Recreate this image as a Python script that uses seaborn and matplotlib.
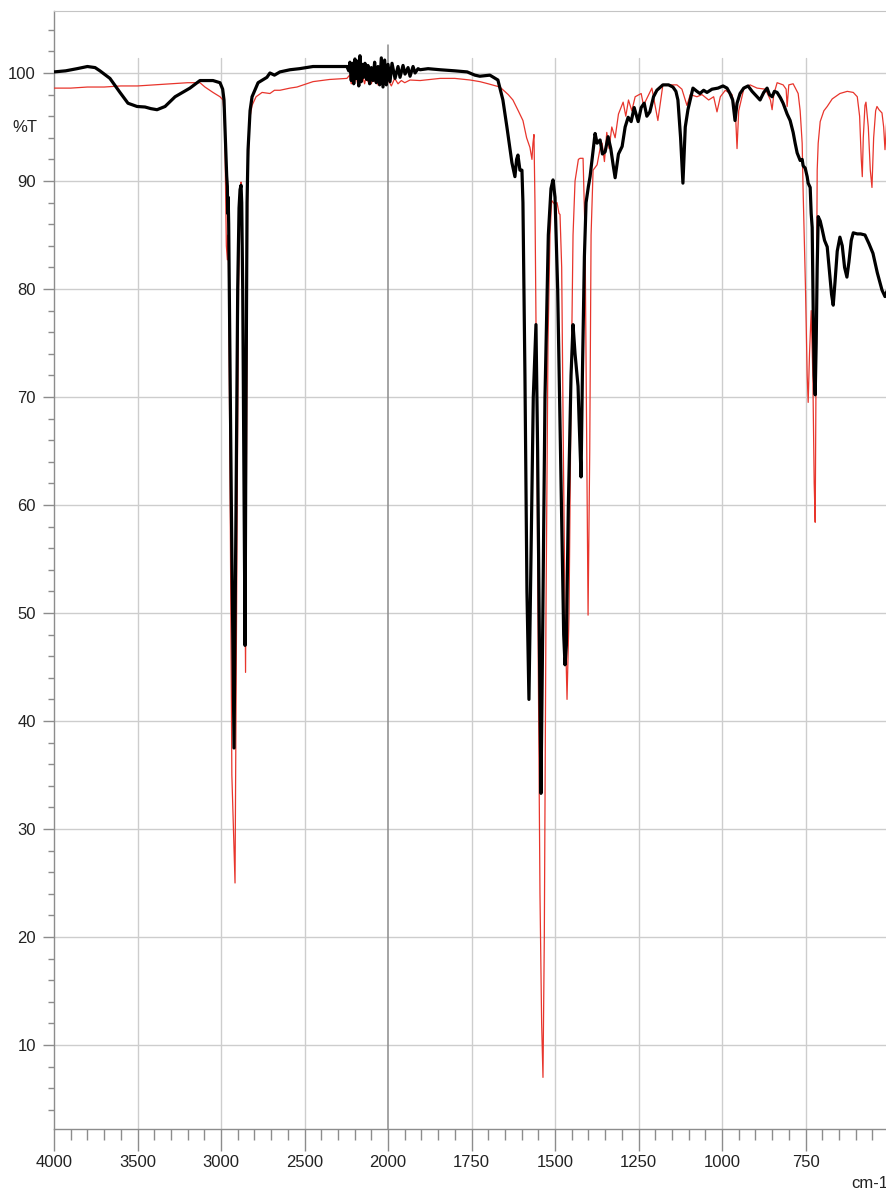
import numpy as np
import pandas as pd
import matplotlib
matplotlib.use("Agg")
import matplotlib.pyplot as plt
import seaborn as sns

# IR spectra, wavenumber (cm-1) and %T
black_wn = [4000, 3930, 3862, 3800, 3754, 3725, 3665, 3605, 3557, 3503, 3455, 3420, 3383, 3335, 3275,
            3186, 3126, 3048, 3006, 2990, 2982, 2972, 2966, 2962, 2960, 2957, 2954, 2938, 2922, 2910,
            2900, 2892, 2886, 2880, 2876, 2870, 2856, 2850, 2844, 2838, 2826, 2814, 2778, 2725, 2707,
            2680, 2647, 2587, 2530, 2449, 2350, 2246, 2235, 2228, 2220, 2212, 2205, 2198, 2190, 2182,
            2175, 2168, 2160, 2152, 2145, 2138, 2128, 2120, 2110, 2100, 2090, 2080, 2070, 2060, 2050,
            2040, 2030, 2020, 2010, 2000, 1994, 1988, 1979, 1970, 1964, 1955, 1949, 1940, 1934, 1925,
            1919, 1910, 1904, 1880, 1844, 1800, 1763, 1740, 1725, 1695, 1671, 1656, 1644, 1629, 1620,
            1615, 1611, 1605, 1599, 1596, 1590, 1584, 1578, 1572, 1565, 1557, 1552, 1546, 1542, 1538,
            1530, 1520, 1512, 1506, 1500, 1492, 1482, 1474, 1470, 1466, 1460, 1452, 1446, 1440, 1434,
            1431, 1428, 1422, 1418, 1412, 1407, 1400, 1395, 1389, 1380, 1374, 1365, 1358, 1350, 1341,
            1333, 1326, 1320, 1310, 1299, 1290, 1281, 1272, 1263, 1251, 1242, 1233, 1225, 1216, 1205,
            1195, 1177, 1160, 1147, 1138, 1132, 1124, 1117, 1110, 1102, 1087, 1075, 1066, 1055, 1045,
            1030, 1012, 997, 985, 976, 968, 961, 955, 946, 935, 922, 910, 895, 886, 875,
            865, 858, 850, 843, 835, 825, 817, 805, 796, 787, 781, 775, 770, 766, 760,
            757, 751, 745, 742, 736, 733, 730, 727, 724, 721, 718, 715, 712, 706, 700,
            693, 685, 678, 672, 667, 662, 655, 647, 640, 633, 626, 620, 613, 607, 595,
            585, 572, 560, 548, 535, 521, 512, 506]
black_t = [100.1, 100.2, 100.4, 100.6, 100.5, 100.2, 99.5, 98.2, 97.2, 96.9, 96.85, 96.7, 96.6, 96.9, 97.8,
           98.6, 99.3, 99.3, 99.1, 98.5, 97.5, 93.0, 90.5, 89.5, 87.0, 88.5, 86.0, 60.0, 37.5, 60.0,
           80.0, 87.5, 89.2, 89.6, 88.0, 80.0, 47.0, 70.0, 88.0, 92.9, 96.5, 97.8, 99.1, 99.6, 100.0,
           99.8, 100.1, 100.3, 100.4, 100.6, 100.6, 100.6, 100.2, 101.0, 99.3, 100.9, 99.0, 101.3, 99.5, 101.1,
           98.8, 101.6, 99.2, 100.8, 99.6, 100.9, 99.4, 100.7, 99.0, 100.5, 99.3, 101.0, 99.1, 100.6, 98.9,
           101.4, 98.7, 101.2, 98.9, 100.8, 99.2, 100.9, 99.5, 100.6, 99.6, 100.7, 99.9, 100.5, 99.7, 100.6,
           100.0, 100.4, 100.3, 100.4, 100.3, 100.2, 100.1, 99.8, 99.7, 99.8, 99.35, 97.5, 95.0, 91.7, 90.4,
           92.0, 92.4, 91.0, 91.0, 88.0, 72.0, 52.0, 42.0, 55.0, 70.0, 76.7, 65.0, 45.0, 33.3, 45.0,
           70.0, 85.0, 89.3, 90.1, 88.5, 80.0, 62.0, 48.0, 45.2, 47.0, 60.0, 72.0, 76.7, 74.0, 72.0,
           71.0, 68.0, 62.6, 72.0, 83.0, 88.0, 89.5, 90.4, 92.0, 94.4, 93.5, 93.8, 92.5, 92.7, 94.1,
           93.0, 91.5, 90.3, 92.5, 93.2, 95.0, 95.9, 95.5, 96.8, 95.5, 96.8, 97.2, 96.0, 96.4, 97.8,
           98.4, 98.9, 98.9, 98.7, 98.3, 97.5, 94.0, 89.8, 95.0, 96.6, 98.6, 98.3, 98.1, 98.4, 98.2,
           98.5, 98.6, 98.8, 98.6, 98.1, 97.5, 95.6, 97.2, 98.1, 98.6, 98.8, 98.3, 97.8, 97.5, 98.2,
           98.6, 98.0, 97.8, 98.3, 98.2, 97.7, 97.2, 96.2, 95.6, 94.5, 93.5, 92.6, 92.2, 91.9, 92.0,
           91.4, 91.2, 90.4, 89.8, 89.4, 87.0, 85.7, 78.0, 72.0, 70.2, 75.0, 82.0, 86.7, 86.3, 85.5,
           84.5, 83.9, 81.5, 79.5, 78.5, 80.5, 83.5, 84.8, 84.0, 82.0, 81.1, 82.5, 84.5, 85.2, 85.1,
           85.1, 85.0, 84.2, 83.3, 81.5, 79.9, 79.3, 79.8]

red_wn = [4000, 3900, 3800, 3700, 3600, 3500, 3400, 3300, 3200, 3126, 3096, 3048, 3006, 2988, 2980,
          2975, 2968, 2962, 2958, 2955, 2945, 2935, 2916, 2905, 2895, 2884, 2880, 2875, 2866, 2853,
          2846, 2840, 2830, 2814, 2790, 2754, 2707, 2680, 2647, 2587, 2545, 2449, 2350, 2246, 2230,
          2220, 2210, 2200, 2190, 2180, 2170, 2160, 2150, 2140, 2130, 2120, 2110, 2100, 2090, 2080,
          2070, 2060, 2048, 2040, 2030, 2020, 2010, 2000, 1990, 1980, 1970, 1960, 1950, 1934, 1904,
          1844, 1800, 1754, 1725, 1700, 1665, 1640, 1626, 1610, 1596, 1585, 1575, 1569, 1566, 1563,
          1560, 1555, 1550, 1545, 1540, 1536, 1532, 1527, 1521, 1515, 1510, 1500, 1494, 1488, 1485,
          1480, 1475, 1470, 1464, 1458, 1452, 1446, 1440, 1430, 1425, 1416, 1410, 1405, 1401, 1396,
          1392, 1386, 1374, 1365, 1359, 1352, 1345, 1338, 1330, 1320, 1310, 1296, 1288, 1280, 1270,
          1260, 1242, 1235, 1210, 1192, 1177, 1160, 1135, 1120, 1105, 1095, 1075, 1060, 1040, 1025,
          1015, 1005, 990, 970, 960, 955, 950, 935, 916, 895, 870, 855, 850, 845, 835,
          817, 808, 805, 800, 787, 772, 766, 760, 757, 750, 745, 742, 738, 733, 728,
          724, 721, 718, 715, 712, 706, 695, 685, 670, 647, 625, 607, 595, 588, 583,
          580, 577, 572, 569, 562, 556, 551, 546, 540, 536, 530, 521, 516, 512, 508,
          506]
red_t = [98.6, 98.6, 98.7, 98.7, 98.8, 98.8, 98.9, 99.0, 99.1, 99.1, 98.7, 98.2, 97.8, 97.5, 96.0,
         92.0, 84.0, 82.7, 85.0, 82.5, 60.0, 35.0, 25.0, 55.0, 80.0, 89.0, 89.9, 87.0, 75.0, 44.5,
         70.0, 90.0, 95.6, 97.0, 97.8, 98.2, 98.1, 98.4, 98.4, 98.6, 98.7, 99.2, 99.4, 99.5, 99.8,
         99.0, 99.9, 99.2, 99.7, 98.8, 99.8, 99.1, 99.6, 99.0, 99.7, 99.2, 99.6, 99.0, 99.5, 99.2,
         99.5, 98.9, 98.9, 99.6, 98.8, 99.5, 98.9, 99.4, 98.8, 99.5, 99.0, 99.3, 99.1, 99.35, 99.3,
         99.5, 99.5, 99.35, 99.2, 99.0, 98.7, 98.0, 97.5, 96.5, 95.6, 94.0, 93.1, 92.0, 93.5, 94.3,
         88.0, 70.0, 45.0, 24.0, 12.0, 7.0, 20.0, 50.0, 75.0, 85.0, 88.2, 87.8, 88.0, 87.0, 86.9,
         82.0, 65.0, 50.0, 42.0, 50.0, 70.0, 85.0, 90.0, 92.0, 92.1, 92.1, 85.0, 65.0, 49.8, 65.0,
         85.0, 91.0, 91.5, 93.0, 93.5, 91.8, 94.5, 93.0, 95.0, 94.0, 96.2, 97.3, 96.0, 97.5, 96.5,
         97.8, 98.1, 97.0, 98.6, 95.6, 98.9, 98.9, 98.9, 98.5, 97.0, 98.0, 97.8, 98.0, 97.5, 97.8,
         96.4, 97.8, 98.4, 98.0, 96.5, 93.0, 96.5, 98.5, 98.9, 98.6, 98.5, 97.5, 96.6, 98.0, 99.1,
         98.9, 98.5, 96.9, 98.9, 99.0, 98.1, 96.5, 93.5, 88.9, 80.0, 72.0, 69.5, 74.0, 78.0, 72.0,
         62.0, 58.4, 75.0, 91.0, 93.5, 95.5, 96.5, 96.9, 97.6, 98.1, 98.3, 98.2, 97.8, 96.0, 92.0,
         90.4, 94.0, 97.0, 97.3, 95.0, 91.0, 89.4, 94.0, 96.5, 96.9, 96.6, 96.3, 95.0, 92.9, 95.0,
         96.0]

x_major = [4000, 3500, 3000, 2500, 2000, 1750, 1500, 1250, 1000, 750]
y_major = [10, 20, 30, 40, 50, 60, 70, 80, 90, 100]

red = pd.DataFrame({"wn": red_wn, "t": red_t})
black = pd.DataFrame({"wn": black_wn, "t": black_t})

sns.set_style("white")
plt.rcParams["font.family"] = ["Liberation Sans", "DejaVu Sans"]

fig = plt.figure(figsize=(8.87, 11.9), dpi=100)
ax = fig.add_axes([54 / 887, 1 - 1129 / 1190, 1 - 54 / 887, (1129 - 11) / 1190])

sns.lineplot(data=red, x="wn", y="t", color="#e8352c", linewidth=0.9,
             estimator=None, sort=False, ax=ax, zorder=3)
sns.lineplot(data=black, x="wn", y="t", color="black", linewidth=2.3,
             estimator=None, sort=False, ax=ax, zorder=4)


# IR style axis: 2x expanded below 2000 cm-1
def fwd(x):
    x = np.asarray(x, dtype=float)
    return np.where(x >= 2000, x - 2000, 2 * (x - 2000))


def inv(u):
    u = np.asarray(u, dtype=float)
    return np.where(u >= 0, u + 2000, u / 2 + 2000)


ax.set_xscale("function", functions=(fwd, inv))
ax.set_xlim(4000, 506)
ax.set_ylim(2.22, 105.74)

# grid
for y in y_major:
    ax.axhline(y, color="#cdcdcd", lw=1, zorder=1)
for x in x_major[1:]:
    if x == 2000:
        ax.axvline(x, ymax=0.97, color="#8c8c8c", lw=1.1, zorder=1)
    else:
        ax.axvline(x, ymax=0.958, color="#cdcdcd", lw=1, zorder=1)

ax.set_xticks(x_major)
ax.set_xticklabels([str(v) for v in x_major])
minor_x = [v for v in range(3900, 2000, -100) if v % 500] + [v for v in range(1950, 500, -50) if v % 250]
ax.set_xticks(minor_x, minor=True)
ax.set_yticks(y_major)
ax.set_yticks([v for v in range(4, 106, 2) if v % 10], minor=True)

ax.tick_params(axis="x", which="major", direction="out", length=16, width=1, color="#8c8c8c",
               pad=3, labelsize=12, labelcolor="#222222", bottom=True)
ax.tick_params(axis="x", which="minor", direction="out", length=8, width=1, color="#8c8c8c", bottom=True)
ax.tick_params(axis="y", which="major", direction="out", length=8, width=1, color="#8c8c8c",
               pad=5, labelsize=12, labelcolor="#222222", left=True)
ax.tick_params(axis="y", which="minor", direction="out", length=4.3, width=1, color="#8c8c8c", left=True)

ax.set_xlabel("")
ax.set_ylabel("")
for side in ["left", "bottom"]:
    ax.spines[side].set_color("#8c8c8c")
    ax.spines[side].set_linewidth(1)
ax.spines["top"].set_color("#c4c4c4")
ax.spines["right"].set_visible(False)

fig.text(12 / 887, 1 - 128 / 1190, "%T", ha="left", va="center", fontsize=12, color="#222222")
fig.text(851 / 887, 1 - 1183 / 1190, "cm-1", ha="left", va="center", fontsize=12, color="#222222")

fig.savefig("out.png", dpi=100)
